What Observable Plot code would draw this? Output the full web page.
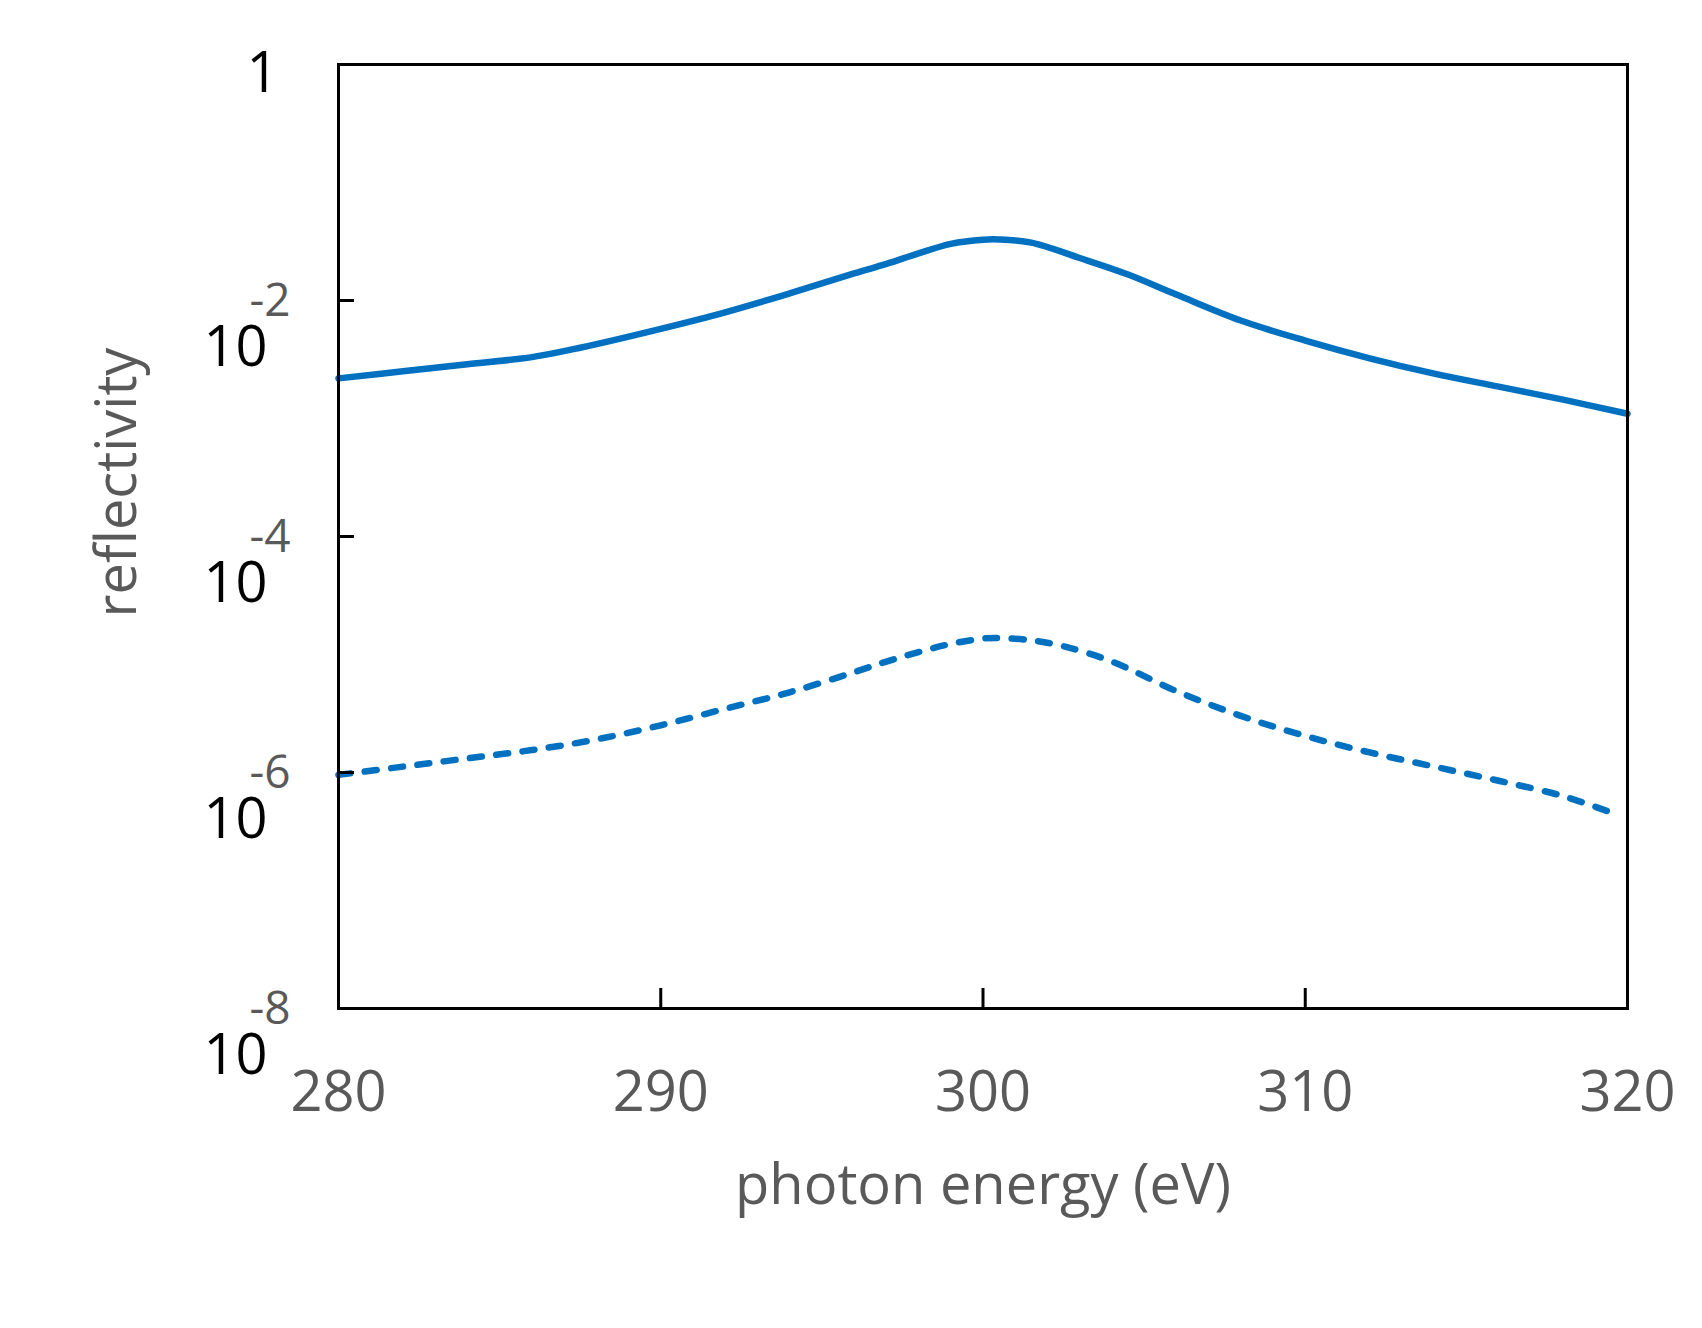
<!DOCTYPE html>
<html>
<head>
<meta charset="utf-8">
<script src="https://cdn.jsdelivr.net/npm/d3@7"></script>
<script src="https://cdn.jsdelivr.net/npm/@observablehq/plot@0.6"></script>
<style>
  html, body { margin: 0; padding: 0; background: #ffffff; }
  #chart { width: 1702px; height: 1328px; }
</style>
</head>
<body>
<div id="chart"></div>
<script>
// photon energy (eV) and log10(reflectivity)
const solidEnergy = [280, 282, 284, 286, 287.5, 290, 292, 294, 296, 297, 298, 299, 300, 300.5, 301.5, 303, 304.5, 306, 308, 310, 312, 314, 316, 318, 320];
const solidLogR   = [-2.66, -2.60, -2.54, -2.48, -2.40, -2.24, -2.10, -1.94, -1.77, -1.69, -1.60, -1.52, -1.485, -1.483, -1.51, -1.64, -1.78, -1.95, -2.17, -2.34, -2.49, -2.62, -2.73, -2.84, -2.96];

const dashEnergy = [280, 282, 284, 286, 288, 290, 292, 294, 296, 297, 298, 299, 300, 300.5, 301.5, 302.5, 304, 306, 308, 310, 312, 314, 316, 318, 319.7];
const dashLogR   = [-6.02, -5.95, -5.88, -5.81, -5.72, -5.60, -5.46, -5.32, -5.15, -5.06, -4.98, -4.91, -4.865, -4.86, -4.88, -4.93, -5.06, -5.31, -5.52, -5.69, -5.83, -5.95, -6.07, -6.20, -6.36];

const xTickLabels = [280, 290, 300, 310, 320];
const xInnerTicks = [290, 300, 310];
const yExponents = [0, -2, -4, -6, -8];
const yInnerTicks = [-2, -4, -6];

const xTitle = "photon energy (eV)";
const yTitle = "reflectivity";

const solid = solidEnergy.map((e, i) => ({e, r: Math.pow(10, solidLogR[i])}));
const dashed = dashEnergy.map((e, i) => ({e, r: Math.pow(10, dashLogR[i])}));

const blue = "#0070C0";
const gray = "#595959";
const font = "Open Sans";

const chart = Plot.plot({
  width: 1702,
  height: 1328,
  marginLeft: 338,
  marginRight: 75,
  marginTop: 64,
  marginBottom: 320,
  style: {background: "#ffffff", fontFamily: font},
  x: {domain: [280, 320], axis: null},
  y: {type: "log", domain: [1e-8, 1], axis: null},
  marks: [
    Plot.line(solid, {x: "e", y: "r", stroke: blue, strokeWidth: 6.5, curve: "catmull-rom"}),
    Plot.line(dashed, {x: "e", y: "r", stroke: blue, strokeWidth: 6.5, curve: "catmull-rom",
      strokeDasharray: "12,14.5", strokeLinecap: "round"}),
    Plot.axisX(xInnerTicks, {anchor: "bottom", tickSize: -20, strokeWidth: 3, stroke: "black", tickFormat: () => "", label: null}),
    Plot.axisY(yInnerTicks.map(e => Math.pow(10, e)), {anchor: "left", tickSize: -16, strokeWidth: 3, stroke: "black", tickFormat: () => "", label: null}),
    Plot.frame({stroke: "black", strokeWidth: 3}),
    // x tick labels
    Plot.text(xTickLabels, {x: d => d, text: d => String(d), frameAnchor: "bottom", dy: 102,
      lineAnchor: "bottom", fontSize: 56, fill: gray, fontFamily: font}),
    // y tick labels: "1" and 10^n
    Plot.text(yExponents.filter(e => e === 0), {y: e => Math.pow(10, e), text: () => "1", frameAnchor: "left",
      dx: -60, dy: 27, textAnchor: "end", lineAnchor: "bottom", fontSize: 56, fill: "black", fontFamily: font}),
    Plot.text(yExponents.filter(e => e < 0), {y: e => Math.pow(10, e), text: () => "10", frameAnchor: "left",
      dx: -71, dy: 65, textAnchor: "end", lineAnchor: "bottom", fontSize: 56, fill: "black", fontFamily: font}),
    Plot.text(yExponents.filter(e => e < 0), {y: e => Math.pow(10, e), text: e => String(e), frameAnchor: "left",
      dx: -48, dy: 15, textAnchor: "end", lineAnchor: "bottom", fontSize: 46, fill: gray, fontFamily: font}),
    // axis titles
    Plot.text([xTitle], {text: d => d, frameAnchor: "bottom", dy: 195, lineAnchor: "bottom",
      fontSize: 56, fill: gray, fontFamily: font}),
    Plot.text([yTitle], {text: d => d, frameAnchor: "left", rotate: -90, dx: -203, dy: -54,
      lineAnchor: "bottom", textAnchor: "middle", fontSize: 56, fill: gray, fontFamily: font})
  ]
});
document.getElementById("chart").appendChild(chart);
</script>
</body>
</html>
